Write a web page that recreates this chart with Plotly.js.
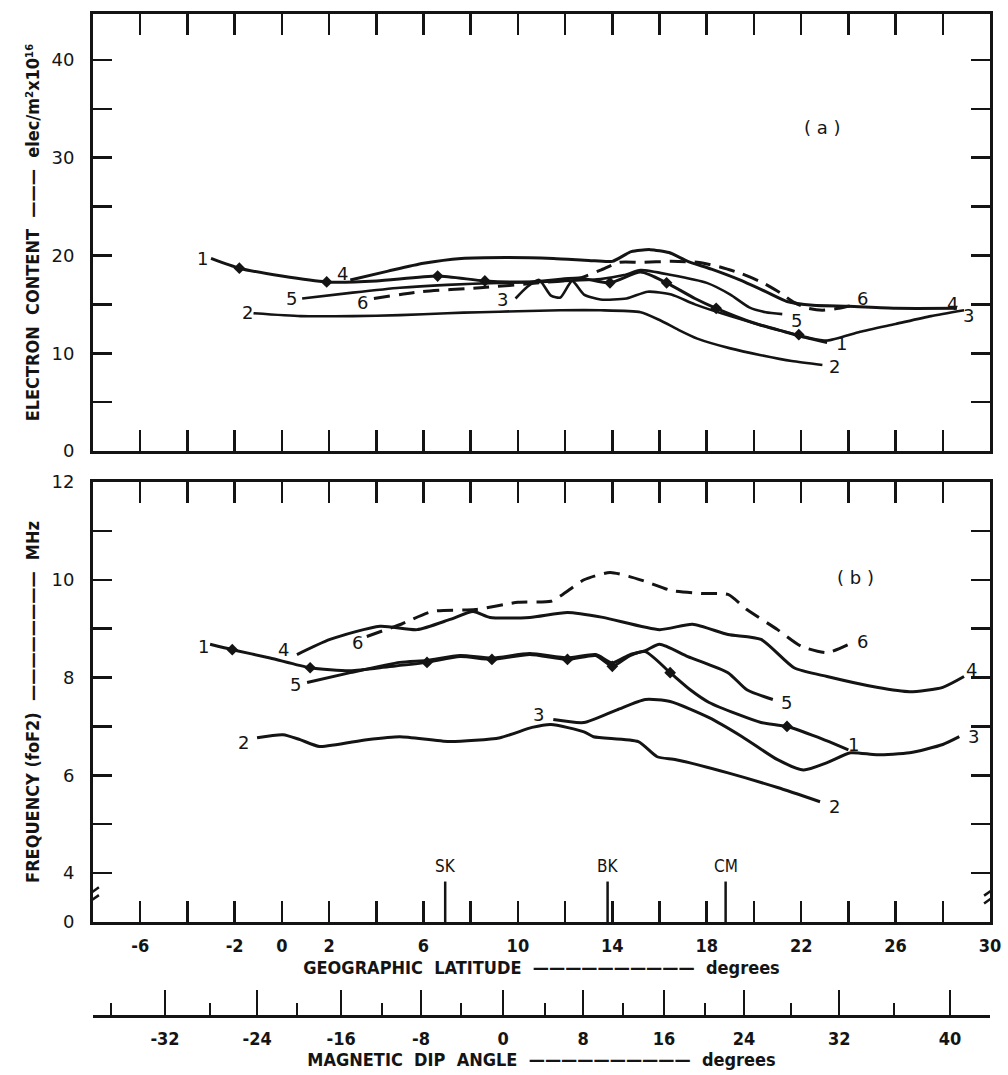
<!DOCTYPE html>
<html>
<head>
<meta charset="utf-8">
<script src="https://cdn.plot.ly/plotly-3.0.1.min.js"></script>
<style>html,body{margin:0;padding:0;background:#fff;}#chart{width:1008px;height:1075px;}</style>
</head>
<body>
<div id="chart"></div>
<script>
// ---------- Panel (a): electron content (elec/m^2 x 10^16) vs geographic latitude ----------
const latA1 = [-3.0, -1.8, 0, 1.9, 4, 6.6, 8.6, 10.5, 12.6, 13.9, 15.2, 16.3, 17.5, 18.4, 20, 21.3, 22.2, 23.1];
const ecA1  = [19.7, 18.7, 17.9, 17.3, 17.4, 17.9, 17.4, 17.3, 17.7, 17.2, 18.3, 17.2, 15.6, 14.6, 13.1, 12.2, 11.6, 11.1];
const latA1m = [-1.8, 1.9, 6.6, 8.6, 13.9, 16.3, 18.4, 21.9];
const ecA1m  = [18.7, 17.3, 17.9, 17.4, 17.2, 17.2, 14.6, 11.9];

const latA2 = [-1.2, 0.8, 3, 5, 7, 8.4, 10, 11.8, 13.5, 15.2, 16.0, 16.8, 17.6, 19, 20.3, 21.6, 22.9];
const ecA2  = [14.1, 13.8, 13.8, 13.9, 14.1, 14.2, 14.3, 14.4, 14.4, 14.2, 13.4, 12.4, 11.5, 10.5, 9.8, 9.2, 8.8];

const latA3 = [9.9, 10.4, 10.9, 11.4, 11.8, 12.3, 12.8, 13.5, 14.6, 15.5, 16.5, 17.5, 19, 21, 22.3, 23.1, 24.5, 26, 27.5, 28.9];
const ecA3  = [15.6, 16.8, 17.5, 15.9, 15.7, 17.4, 16.0, 15.5, 15.6, 16.3, 16.0, 15.0, 13.8, 12.4, 11.6, 11.3, 12.2, 13.0, 13.8, 14.4];

const latA4 = [2.9, 4.5, 6, 7.6, 9.5, 11.5, 13, 14, 14.8, 15.6, 16.4, 17.2, 18.2, 19.4, 20.5, 21.4, 22.5, 24, 26, 28.6];
const ecA4  = [17.5, 18.4, 19.2, 19.7, 19.8, 19.7, 19.5, 19.4, 20.4, 20.6, 20.3, 19.4, 18.6, 17.5, 16.3, 15.3, 14.9, 14.8, 14.6, 14.6];

const latA5 = [0.86, 3, 5, 7, 9.2, 11, 13.5, 14.5, 15.2, 16.5, 18.0, 19.0, 19.8, 20.5, 21.2];
const ecA5  = [15.6, 16.2, 16.7, 17.0, 17.2, 17.3, 17.6, 18.0, 18.5, 18.0, 17.2, 16.0, 14.7, 14.2, 14.0];

const latA6 = [3.9, 5.9, 8.4, 10.9, 12.5, 13.5, 14.3, 15.2, 16.5, 17.6, 18.6, 19.4, 20.3, 21.1, 21.7, 22.3, 22.9, 23.6, 24.2];
const ecA6  = [15.6, 16.3, 16.7, 17.2, 17.6, 18.5, 19.3, 19.3, 19.4, 19.3, 18.8, 18.2, 17.3, 16.2, 15.2, 14.6, 14.4, 14.6, 14.9];

// ---------- Panel (b): foF2 (MHz) vs geographic latitude ----------
const latB1 = [-3.04, -2.1, -0.5, 1.2, 2.9, 4.5, 6.15, 7.55, 8.9, 10.5, 12.1, 13.3, 14.0, 14.75, 15.4, 16.45, 17.3, 18.1, 19.3, 20.3, 21.4, 22.7, 24.0];
const fB1   = [8.68, 8.57, 8.4, 8.2, 8.14, 8.22, 8.31, 8.43, 8.37, 8.47, 8.37, 8.45, 8.23, 8.45, 8.53, 8.10, 7.75, 7.49, 7.25, 7.08, 7.0, 6.78, 6.52];
const latB1m = [-2.1, 1.2, 6.15, 8.9, 12.1, 14.0, 16.45, 21.4];
const fB1m   = [8.57, 8.2, 8.31, 8.37, 8.37, 8.23, 8.10, 7.0];

const latB2 = [-1.05, 0.05, 0.77, 1.6, 3.6, 5.0, 7.1, 9.25, 10.6, 11.4, 12.8, 13.2, 15.1, 15.9, 16.7, 18.9, 21.0, 22.8];
const fB2   = [6.77, 6.83, 6.73, 6.59, 6.73, 6.79, 6.69, 6.77, 6.98, 7.04, 6.89, 6.79, 6.69, 6.38, 6.32, 6.05, 5.75, 5.46];

const latB3 = [11.5, 12.8, 14.2, 15.4, 16.45, 18.1, 19.5, 21.0, 22.1, 23.1, 24.1, 25.2, 26.6, 28.0, 28.7];
const fB3   = [7.14, 7.08, 7.34, 7.55, 7.51, 7.18, 6.79, 6.32, 6.11, 6.26, 6.46, 6.42, 6.46, 6.63, 6.79];

const latB4 = [0.64, 2.04, 4.16, 5.73, 7.13, 8.10, 8.82, 10.5, 12.1, 13.6, 16.0, 17.4, 18.9, 20.3, 21.7, 23.1, 25.2, 26.6, 28.0, 28.9];
const fB4   = [8.47, 8.78, 9.05, 8.98, 9.19, 9.35, 9.23, 9.23, 9.33, 9.23, 8.98, 9.09, 8.88, 8.78, 8.20, 8.02, 7.80, 7.71, 7.80, 8.02];

const latB5 = [1.07, 2.9, 5.0, 6.15, 7.55, 8.9, 10.5, 12.1, 13.3, 14.0, 14.75, 15.4, 16.0, 17.2, 18.9, 19.7, 20.8];
const fB5   = [7.90, 8.10, 8.31, 8.35, 8.45, 8.40, 8.49, 8.40, 8.47, 8.30, 8.47, 8.55, 8.68, 8.43, 8.10, 7.75, 7.55];

const latB6 = [3.6, 4.7, 5.1, 6.35, 8.2, 10.0, 11.4, 11.9, 12.8, 13.9, 14.7, 15.5, 16.5, 17.8, 18.9, 19.7, 21.0, 22.0, 23.1, 24.2];
const fB6   = [8.84, 9.03, 9.10, 9.35, 9.39, 9.54, 9.56, 9.70, 10.0, 10.15, 10.07, 9.95, 9.78, 9.72, 9.70, 9.39, 8.98, 8.64, 8.51, 8.72];

// ---------- Axis ticks ----------
const latLabelTicks = [-6,-2,0,2,6,10,14,18,22,26,30];
const latLabels = ['-6','-2','0','2','6','10','14','18','22','26','30'];
const latMinorTicks = [-4,4,8,12,16,20,24,28];
const latAllTicks = [-6,-4,-2,0,2,4,6,8,10,12,14,16,18,20,22,24,26,28];
const ecTicks = [0,10,20,30,40];
const ecMinorTicks = [5,15,25,35];
const fTicks = [3,4,6,8,10,12];
const fTickText = ['0','4','6','8','10','12'];
const fMinorTicks = [5,7,9,11];
// magnetic dip angle scale, positioned at geographic latitude
const dipLabels = ['-32','-24','-16','-8','0','8','16','24','32','40'];
const dipLat = [-4.95, -1.05, 2.51, 5.90, 9.37, 12.76, 16.19, 19.58, 23.61, 28.31];
const dipMinorLat = [-7.24, -3.04, 0.64, 4.25, 7.59, 11.15, 14.46, 17.93, 21.58, 25.94];
// stations
const stationNames = ['SK','BK','CM'];
const stationLat = [6.92, 13.8, 18.8];

// curve label positions (lat, value)
const labA = {t:['1','2','5','4','6','3','6','5','1','2','4','3'],
  x:[-3.38,-1.47,0.43,2.59,3.40,9.33,24.6,21.8,23.7,23.4,28.4,29.1],
  y:[19.74,14.12,15.65,18.2,15.24,15.45,15.65,13.4,11.05,8.6,15.1,13.9]};
const labB = {t:['1','4','6','5','2','3','6','4','5','1','3','2'],
  x:[-3.34,0.05,3.19,0.56,-1.64,10.86,24.6,29.2,21.4,24.2,29.3,23.4],
  y:[8.64,8.57,8.72,7.86,6.67,7.24,8.74,8.16,7.49,6.63,6.79,5.36]};

const INK = '#141414';
const TXT = "'DejaVu Sans', sans-serif";
const TXTN = "'DejaVu Sans Condensed', 'Liberation Sans Narrow', 'DejaVu Sans', sans-serif";

function line(x, y, xa, ya, dash, w) {
  return {x:x, y:y, xaxis:xa, yaxis:ya, type:'scatter', mode:'lines',
    line:{color:INK, width:w||3, shape:'spline', smoothing:0.6, dash:dash||'solid'},
    hoverinfo:'skip', showlegend:false};
}
function marks(x, y, xa, ya) {
  return {x:x, y:y, xaxis:xa, yaxis:ya, type:'scatter', mode:'markers',
    marker:{symbol:'diamond', size:9, color:INK}, hoverinfo:'skip', showlegend:false};
}
const DASH = '16px,9px';
const traces = [
  line(latA1, ecA1, 'x', 'y'), marks(latA1m, ecA1m, 'x', 'y'),
  line(latA2, ecA2, 'x', 'y', null, 2.6),
  line(latA3, ecA3, 'x', 'y', null, 2.6),
  line(latA4, ecA4, 'x', 'y'),
  line(latA5, ecA5, 'x', 'y', null, 2.6),
  line(latA6, ecA6, 'x', 'y', DASH),
  line(latB1, fB1, 'x2', 'y2'), marks(latB1m, fB1m, 'x2', 'y2'),
  line(latB2, fB2, 'x2', 'y2'),
  line(latB3, fB3, 'x2', 'y2'),
  line(latB4, fB4, 'x2', 'y2'),
  line(latB5, fB5, 'x2', 'y2'),
  line(latB6, fB6, 'x2', 'y2', DASH),
  {x:[], y:[], xaxis:'x3', yaxis:'y3', type:'scatter', mode:'lines', showlegend:false, hoverinfo:'skip'}
];

const annotations = [];
function addLabels(lab, xr, yr) {
  lab.t.forEach((t, i) => annotations.push({text:t, x:lab.x[i], y:lab.y[i], xref:xr, yref:yr,
    showarrow:false, font:{family:TXT, size:18, color:INK}}));
}
addLabels(labA, 'x', 'y');
addLabels(labB, 'x2', 'y2');
annotations.push({text:'( a )', x:22.9, y:33.1, xref:'x', yref:'y', showarrow:false, font:{family:TXT, size:18, color:INK}});
annotations.push({text:'( b )', x:24.3, y:10.05, xref:'x2', yref:'y2', showarrow:false, font:{family:TXT, size:18, color:INK}});
stationNames.forEach((s, i) => annotations.push({text:s, x:stationLat[i], y:0.1, yanchor:'bottom', xref:'x2', yref:'y2 domain',
  showarrow:false, font:{family:TXTN, size:17, color:INK}}));

const shapes = [];
stationLat.forEach(v => shapes.push({type:'line', xref:'x2', yref:'y2 domain', x0:v, x1:v, y0:0, y1:0.092,
  line:{color:INK, width:2.5}}));
// axis break marks on the frequency axis
[ -8, 30 ].forEach(v => {
  shapes.push({type:'line', xref:'x2', yref:'y2', x0:v, x1:v, y0:3.47, y1:3.62, line:{color:'#ffffff', width:6}, layer:'above'});
  shapes.push({type:'line', xref:'x2', yref:'y2', x0:v-0.25, x1:v+0.25, y0:3.38, y1:3.55, line:{color:INK, width:2.5}, layer:'above'});
  shapes.push({type:'line', xref:'x2', yref:'y2', x0:v-0.25, x1:v+0.25, y0:3.54, y1:3.71, line:{color:INK, width:2.5}, layer:'above'});
});

const axX = {range:[-8,30], showline:true, linewidth:3, linecolor:INK, mirror:'ticks', ticks:'inside',
  ticklen:21, tickwidth:2.5, tickcolor:INK, showgrid:false, zeroline:false, fixedrange:true, automargin:false};
const axY = {showline:true, linewidth:3, linecolor:INK, mirror:'ticks', ticks:'inside',
  ticklen:19, tickwidth:2.5, tickcolor:INK, showgrid:false, zeroline:false, fixedrange:true,
  tickmode:'array', tickfont:{family:TXT, size:18, color:INK}, ticklabelstandoff:12, automargin:false};
const titleFont = {family:TXTN, size:18, color:INK, weight:'bold'};

const layout = {
  width:1008, height:1075,
  margin:{l:93, r:18, t:14, b:60},
  paper_bgcolor:'#ffffff', plot_bgcolor:'#ffffff',
  xaxis: Object.assign({}, axX, {anchor:'y', tickmode:'array', tickvals:latAllTicks, showticklabels:false}),
  yaxis: Object.assign({}, axY, {domain:[0.5634,1], range:[0,44.7], tickvals:ecTicks,
    minor:{tickmode:'array', tickvals:ecMinorTicks, ticks:'inside', ticklen:19, tickwidth:2.5, tickcolor:INK, showgrid:false},
    title:{text:'ELECTRON  CONTENT  ———  elec/m²x10¹⁶', standoff:8, font:titleFont}}),
  xaxis2: Object.assign({}, axX, {anchor:'y2', tickmode:'array', tickvals:latLabelTicks, ticktext:latLabels,
    minor:{tickmode:'array', tickvals:latMinorTicks, ticks:'inside', ticklen:21, tickwidth:2.5, tickcolor:INK, showgrid:false},
    tickfont:{family:TXTN, size:18, color:INK, weight:'bold'}, ticklabelstandoff:5,
    title:{text:'GEOGRAPHIC  LATITUDE  ——————————  degrees', standoff:7, font:titleFont}}),
  yaxis2: Object.assign({}, axY, {domain:[0.0929,0.5325], range:[3,12], tickvals:fTicks, ticktext:fTickText,
    minor:{tickmode:'array', tickvals:fMinorTicks, ticks:'inside', ticklen:19, tickwidth:2.5, tickcolor:INK, showgrid:false},
    title:{text:'FREQUENCY (foF2)  ————————  MHz', standoff:8, font:titleFont}}),
  xaxis3: {anchor:'y3', range:[-8,30], showline:true, linewidth:3, linecolor:INK, ticks:'inside', ticklen:25, tickwidth:2,
    tickcolor:INK, tickmode:'array', tickvals:dipLat, ticktext:dipLabels, showgrid:false, zeroline:false,
    tickfont:{family:TXTN, size:18, color:INK, weight:'bold'}, ticklabelstandoff:5, automargin:false, fixedrange:true,
    minor:{tickmode:'array', tickvals:dipMinorLat, ticks:'inside', ticklen:12, tickwidth:2, tickcolor:INK, showgrid:false},
    title:{text:'MAGNETIC  DIP  ANGLE  ——————————  degrees', standoff:6, font:titleFont}},
  yaxis3: {domain:[0,0.0005], anchor:'x3', visible:false, fixedrange:true},
  annotations: annotations,
  shapes: shapes,
  showlegend:false
};

Plotly.newPlot('chart', traces, layout, {displayModeBar:false, staticPlot:true});
</script>
</body>
</html>
